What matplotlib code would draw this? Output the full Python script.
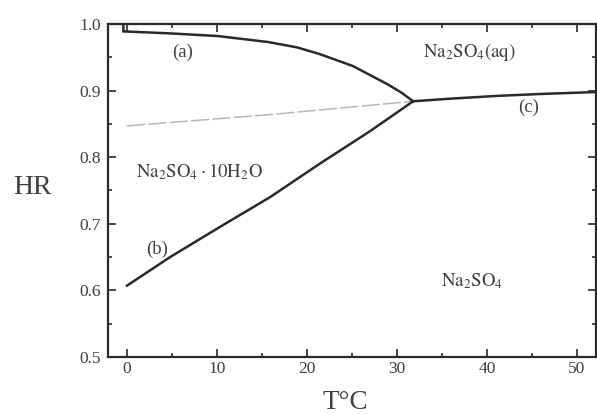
import matplotlib
matplotlib.use("Agg")
import matplotlib.pyplot as plt
from matplotlib.ticker import MultipleLocator

plt.rcParams["font.family"] = ["Liberation Serif", "DejaVu Serif"]
plt.rcParams["mathtext.fontset"] = "stix"

# Phase boundaries of the Na2SO4 - water system (T in degC, relative humidity)
curve_a_T = [-0.4, -0.4, 4.8, 10.1, 15.7, 18.9, 21.4, 25.1, 28.9, 30.5, 31.8]
curve_a_HR = [1.0, 0.989, 0.986, 0.982, 0.973, 0.965, 0.955, 0.937, 0.910, 0.897, 0.884]

curve_b_T = [0.0, 4.8, 10.3, 15.9, 21.4, 27.0, 31.8]
curve_b_HR = [0.607, 0.650, 0.695, 0.740, 0.790, 0.839, 0.884]

curve_c_T = [31.8, 36.0, 41.0, 46.0, 52.3]
curve_c_HR = [0.884, 0.888, 0.892, 0.895, 0.898]

metastable_T = [0.0, 15.9, 31.8]
metastable_HR = [0.847, 0.864, 0.884]

x_ticks = [0, 10, 20, 30, 40, 50]
y_ticks = [0.5, 0.6, 0.7, 0.8, 0.9, 1.0]

ink = "#2a2a2a"
txt = "#3f3f3f"

fig = plt.figure(figsize=(5.97, 4.15), dpi=100)
ax = fig.add_axes([0.181, 0.140, 0.817, 0.802])

ax.plot(metastable_T, metastable_HR, color="#b8b8b8", lw=1.1,
        linestyle=(0, (12, 2)))
ax.plot(curve_a_T, curve_a_HR, color=ink, lw=1.8, solid_joinstyle="miter")
ax.plot(curve_b_T, curve_b_HR, color=ink, lw=1.8)
ax.plot(curve_c_T, curve_c_HR, color=ink, lw=1.8)

ax.set_xlim(-2.1, 52.1)
ax.set_ylim(0.5, 1.0)
ax.set_xticks(x_ticks)
ax.set_yticks(y_ticks)
ax.xaxis.set_minor_locator(MultipleLocator(5))
ax.yaxis.set_minor_locator(MultipleLocator(0.05))
ax.set_xticklabels([str(v) for v in x_ticks])
ax.set_yticklabels([f"{v:.1f}" for v in y_ticks])

ax.tick_params(which="both", direction="in", top=True, right=True,
               color=ink, width=1.2, labelcolor=txt, labelsize=12.5)
ax.tick_params(axis="x", which="major", length=6, pad=3)
ax.tick_params(axis="y", which="major", length=6, pad=5)
ax.tick_params(which="minor", length=3)
for s in ax.spines.values():
    s.set_color(ink)
    s.set_linewidth(1.6)

fig.text(33 / 597, 1 - 187 / 415, "HR", fontsize=20, color=txt,
         ha="center", va="center")
fig.text(345 / 597, 1 - 402 / 415, "T°C", fontsize=19.5, color=txt,
         ha="center", va="center")

lab = dict(fontsize=13.5, color=txt, ha="center", va="center")
ax.text(6.2, 0.958, "(a)", **lab)
ax.text(3.4, 0.662, "(b)", **lab)
ax.text(44.6, 0.875, "(c)", **lab)
ax.text(38.0, 0.958, r"$\mathrm{Na_2SO_4(aq)}$", **lab)
ax.text(8.1, 0.778, r"$\mathrm{Na_2SO_4 \cdot 10H_2O}$", **lab)
ax.text(38.3, 0.614, r"$\mathrm{Na_2SO_4}$", **lab)

fig.savefig("out.png", dpi=100)
